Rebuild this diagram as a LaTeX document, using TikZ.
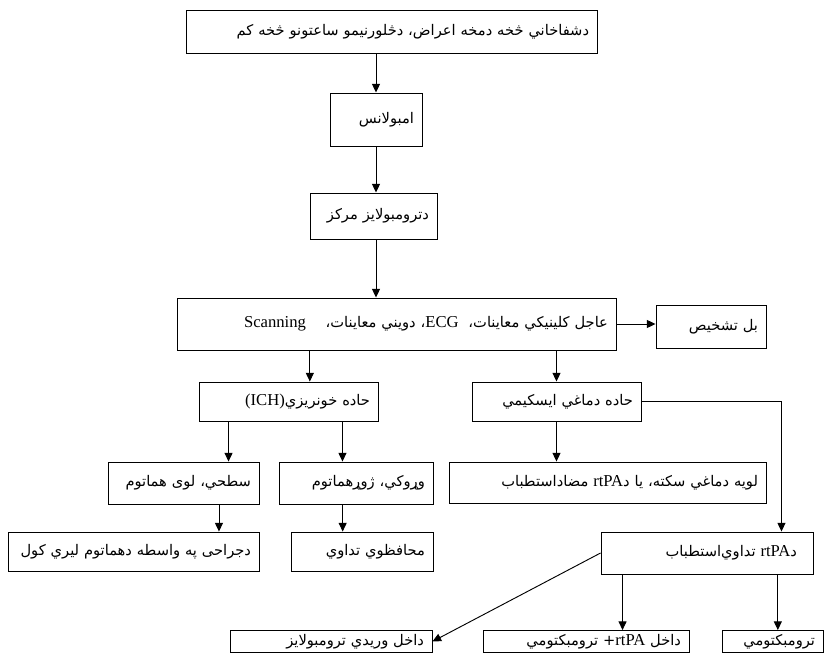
\documentclass[tikz,border=0pt]{standalone}
\usepackage{fontspec}
\setmainfont{Liberation Serif}
\newfontfamily\arabicfont[Script=Arabic]{DejaVu Sans}
\TeXXeTstate=1
\usetikzlibrary{arrows.meta,positioning,calc}
\newcommand{\lat}[1]{\beginL{\rmfamily\fontsize{12.5}{14}\selectfont #1}\endL}
\tikzset{
	box/.style={
		draw, rectangle, line width=0.7pt,
		inner xsep=6pt, inner ysep=0pt, align=right,
		font=\arabicfont\fontsize{11}{13}\selectfont
	},
	arr/.style={-{Triangle[length=6.5pt,width=6pt]}, line width=0.7pt}
}
\begin{document}
\begin{tikzpicture}[x=0.75pt,y=-0.75pt]
				\useasboundingbox (0,0) rectangle (834,655);
				\node[box, text width=296.25pt, minimum height=32.25pt] (symp) at (391.5,31.5) {\beginR دشفاخاني څخه دمخه اعراض، دڅلورنيمو ساعتونو څخه کم\endR};
				\node[box, text width=57pt, minimum height=39.75pt] (amb) at (376,119.5) {\beginR امبولانس\endR};
				\node[box, text width=83.25pt, minimum height=34.5pt] (cent) at (373.5,216) {\beginR دترومبولايز مرکز\endR};
				\node[box, text width=317.25pt, minimum height=39pt] (exam) at (396.5,324) {\beginR عاجل کلينيکي معاينات،\ \ \lat{ECG}، دويني معاينات،\ \ \ \ \lat{Scanning}\endR};
				\node[box, text width=70.5pt, minimum height=32.25pt] (other) at (711,326.5) {\beginR بل تشخيص\endR};
				\node[box, text width=122.25pt, minimum height=29.25pt] (ich) at (288.5,401.5) {\beginR حاده خونريزي\lat{(ICH)}\endR};
				\node[box, text width=114.75pt, minimum height=29.25pt] (isch) at (556.5,401.5) {\beginR حاده دماغي ايسکيمي\endR};
				\node[box, text width=101.25pt, minimum height=31.5pt] (surf) at (183.5,483) {\beginR سطحي، لوی هماتوم\endR};
				\node[box, text width=103.5pt, minimum height=31.5pt] (deep) at (356,483) {\beginR وړوکي، ژوړهماتوم\endR};
				\node[box, text width=225.75pt, minimum height=30.75pt] (contra) at (607.5,482.5) {\beginR لويه دماغي سکته، يا د\lat{rtPA} مضاداستطباب\endR};
				\node[box, text width=176.25pt, minimum height=29.25pt] (surg) at (133.5,551.5) {\beginR دجراحی په واسطه دهماتوم ليري کول\endR};
				\node[box, text width=94.5pt, minimum height=29.25pt] (cons) at (362,551.5) {\beginR محافظوي تداوي\endR};
				\node[box, text width=135pt, inner xsep=12pt, minimum height=31.5pt] (rtpa) at (707,553) {\beginR د\lat{rtPA} تداوي^^^^200cاستطباب\endR};
				\node[box, text width=139.5pt, minimum height=16.5pt] (iv) at (331,641.5) {\beginR داخل وريدي ترومبولايز\endR};
				\node[box, text width=142.5pt, minimum height=16.5pt] (mid) at (586,641.5) {\beginR داخل \lat{rtPA}+ ترومبکتومي\endR};
				\node[box, text width=63.75pt, minimum height=16.5pt] (thr) at (772.5,641.5) {\beginR ترومبکتومي\endR};
				\draw[arr] (symp.south -| amb) -- (amb);
				\draw[arr] (amb) -- (amb |- cent.north);
				\draw[arr] (cent.south -| amb) -- (amb |- exam.north);
				\draw[arr] (exam.east) -- (exam.east -| other.west);
				\draw[arr] ([xshift=16pt]ich.north |- exam.south) -- ([xshift=16pt]ich.north);
				\draw[arr] (isch.north |- exam.south) -- (isch);
				\draw[arr] ([xshift=22.5pt]ich.south west) -- ([xshift=22.5pt]ich.south west |- surf.north);
				\draw[arr] ([xshift=-27pt]ich.south east) -- ([xshift=-27pt]ich.south east |- deep.north);
				\draw[arr] (isch) -- (isch |- contra.north);
				\draw[arr] (isch.east) -| ([xshift=-24pt]rtpa.north east);
				\draw[arr] ([xshift=26.6pt]surf.south) -- ([xshift=26.6pt]surf.south |- surg.north);
				\draw[arr] ([xshift=-10pt]deep.south) -- ([xshift=-10pt]deep.south |- cons.north);
				\draw[arr] (rtpa.west) -- (iv.east);
				\draw[arr] ([xshift=16.5pt]rtpa.south west) -- ([xshift=16.5pt]rtpa.south west |- mid.north);
				\draw[arr] ([xshift=4pt]thr.north |- rtpa.south) -- ([xshift=4pt]thr.north);
			\end{tikzpicture}
\end{document}
